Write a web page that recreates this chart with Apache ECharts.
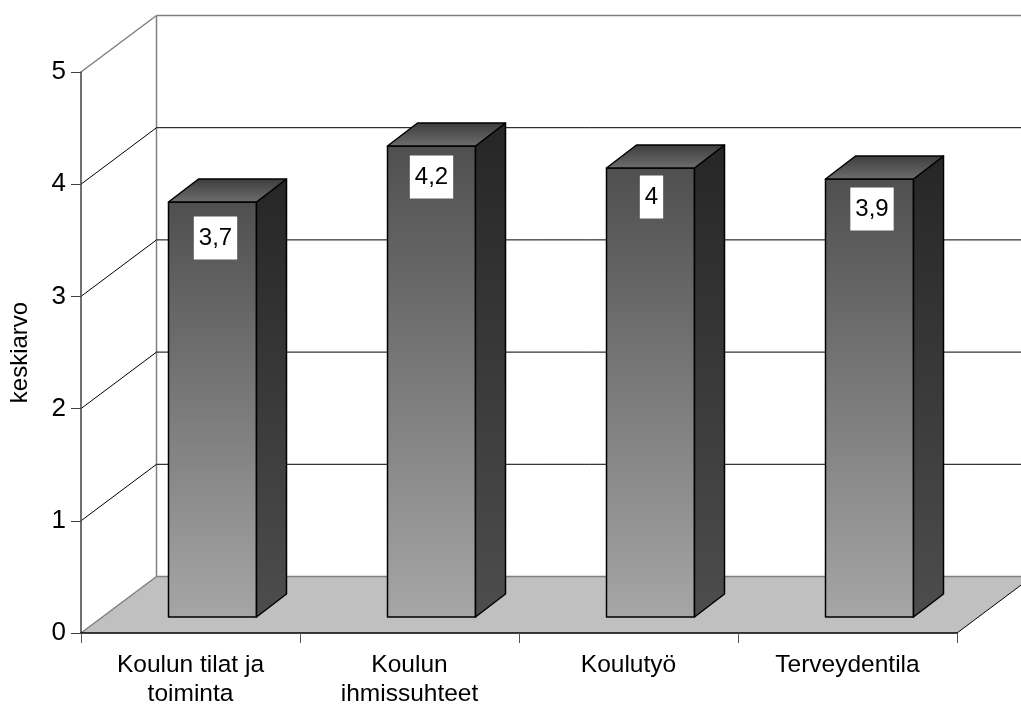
<!DOCTYPE html>
<html><head><meta charset="utf-8">
<style>html,body{margin:0;padding:0;background:#fff}#c{width:1021px;height:704px}</style>
<script src="https://cdn.jsdelivr.net/npm/echarts@6/dist/echarts.min.js"></script>
</head><body><div id="c"></div>
<script>
const categories = ['Koulun tilat ja\ntoiminta', 'Koulun\nihmissuhteet', 'Koulutyö', 'Terveydentila'];
const values = [3.7, 4.2, 4, 3.9];
const yTicks = [0, 1, 2, 3, 4, 5];
const axisTitle = 'keskiarvo';

const FONT = '"Liberation Sans", Arial, sans-serif';
const DEPTH_X = 75.5, DEPTH_Y = 56.5;   // wall depth of the 3D box
const SHIFT_X = 22, SHIFT_Y = 16;       // bar front face offset from the front plane
const BAR_DX = 30, BAR_DY = 23;         // bar depth
const BAR_RATIO = 0.402;
const LABEL_DROP = 31;                  // label centre below the bar's top edge
const LABEL_NUDGE = [[3, 5], [0, 0], [1, -2], [2.5, -1]];

function vGrad(c0, c1) {
  return new echarts.graphic.LinearGradient(0, 0, 0, 1, [{offset: 0, color: c0}, {offset: 1, color: c1}]);
}
function line(x1, y1, x2, y2, stroke, lineWidth) {
  return {type: 'line', shape: {x1, y1, x2, y2}, style: {stroke, lineWidth: lineWidth || 1}, silent: true};
}

function renderWalls(params, api) {
  const v = api.value(0);
  const cs = params.coordSys;
  const y = api.coord([0, v])[1];
  const x0 = cs.x, x1 = cs.x + cs.width;
  const edge = v === yTicks[0] || v === yTicks[yTicks.length - 1];
  const stroke = edge ? '#808080' : '#000';
  const lw = edge ? 1.5 : 1;
  const children = [];
  if (v === yTicks[0]) {
    children.push({type: 'polygon', shape: {points: [[x0, y], [x1, y], [x1 + DEPTH_X, y - DEPTH_Y], [x0 + DEPTH_X, y - DEPTH_Y]]},
      style: {fill: '#c0c0c0'}, silent: true});
    children.push(line(x1, y, x1 + DEPTH_X, y - DEPTH_Y, '#000'));
    const top = api.coord([0, yTicks[yTicks.length - 1]])[1];
    children.push(line(x0 + DEPTH_X, y - DEPTH_Y, x0 + DEPTH_X, top - DEPTH_Y, '#808080', 1.5));
  }
  children.push(line(x0, y, x0 + DEPTH_X, y - DEPTH_Y, stroke, lw));
  children.push(line(x0 + DEPTH_X, y - DEPTH_Y, x1 + DEPTH_X, y - DEPTH_Y, stroke, lw));
  return {type: 'group', children};
}

function renderBar(params, api) {
  const cat = api.value(0), v = api.value(1);
  const top = api.coord([cat, v]);
  const base = api.coord([cat, 0]);
  const w = api.size([1, 0])[0] * BAR_RATIO;
  const xl = Math.round(top[0] + SHIFT_X - w / 2) + 0.5;
  const xr = xl + Math.round(w);
  const yt = Math.round(top[1] - SHIFT_Y);
  const yb = Math.round(base[1] - SHIFT_Y);
  const edge = {stroke: '#000', lineWidth: 1.5, lineJoin: 'round'};
  const nudge = LABEL_NUDGE[params.dataIndex];
  return {type: 'group', children: [
    {type: 'polygon', shape: {points: [[xl, yt], [xr, yt], [xr, yb], [xl, yb]]},
      style: Object.assign({fill: vGrad('#4f4f4f', '#a6a6a6')}, edge)},
    {type: 'polygon', shape: {points: [[xr, yt], [xr + BAR_DX, yt - BAR_DY], [xr + BAR_DX, yb - BAR_DY], [xr, yb]]},
      style: Object.assign({fill: vGrad('#262626', '#4d4d4d')}, edge)},
    {type: 'polygon', shape: {points: [[xl, yt], [xr, yt], [xr + BAR_DX, yt - BAR_DY], [xl + BAR_DX, yt - BAR_DY]]},
      style: Object.assign({fill: vGrad('#3c3c3c', '#6e6e6e')}, edge)},
    {type: 'text', x: (xl + xr) / 2 + nudge[0], y: yt + LABEL_DROP + nudge[1], style: {
      text: String(v).replace('.', ','), font: '24px ' + FONT, fill: '#000',
      align: 'center', verticalAlign: 'middle', backgroundColor: '#fff',
      padding: [10, 5, 9, 5]}}
  ]};
}

const chart = echarts.init(document.getElementById('c'), null, {renderer: 'canvas'});
chart.setOption({
  animation: false,
  backgroundColor: '#fff',
  textStyle: {fontFamily: FONT},
  grid: {left: 81, right: 64, top: 72, bottom: 71, containLabel: false, outerBoundsMode: 'none'},
  xAxis: {
    type: 'category', data: categories, z: 5,
    axisLine: {lineStyle: {color: '#000', width: 1.5}},
    axisTick: {show: true, alignWithLabel: false, length: 10, lineStyle: {color: '#555', width: 1}},
    axisLabel: {fontSize: 24.5, color: '#000', lineHeight: 29, margin: 18, fontFamily: FONT, interval: 0},
    splitLine: {show: false}
  },
  yAxis: {
    type: 'value', min: 0, max: 5, interval: 1, z: 5,
    name: axisTitle, nameLocation: 'middle', nameGap: 49, nameRotate: 90,
    nameTextStyle: {fontSize: 24, color: '#000', fontFamily: FONT},
    axisLine: {show: true, lineStyle: {color: '#404040', width: 1.5}},
    axisTick: {show: true, length: 10, lineStyle: {color: '#404040', width: 1}},
    axisLabel: {fontSize: 26, color: '#000', margin: 15, fontFamily: FONT},
    splitLine: {show: false}
  },
  series: [
    {type: 'custom', z: 1, silent: true, clip: false, coordinateSystem: 'cartesian2d',
      data: yTicks.map(t => [t]), encode: {y: 0}, renderItem: renderWalls},
    {type: 'custom', z: 2, silent: true, clip: false, coordinateSystem: 'cartesian2d',
      data: values.map((v, i) => [i, v]), encode: {x: 0, y: 1}, renderItem: renderBar}
  ]
});
</script></body></html>
